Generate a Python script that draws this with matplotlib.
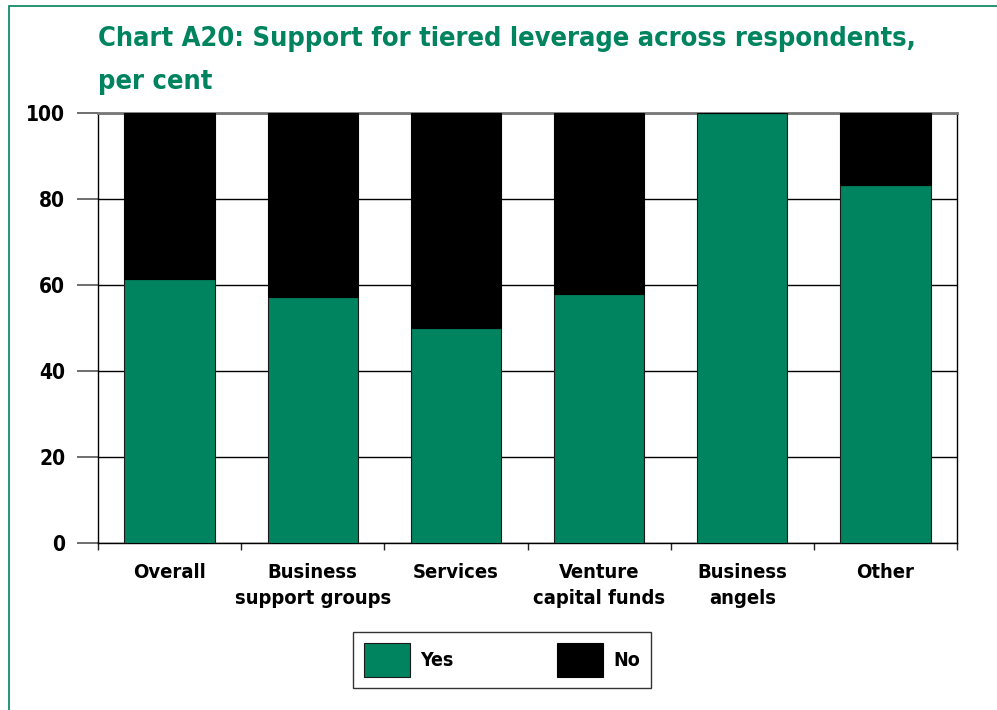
import matplotlib
matplotlib.use("Agg")
import matplotlib.pyplot as plt
from matplotlib.patches import Rectangle
import numpy as np

categories = ["Overall", "Business\nsupport groups", "Services",
              "Venture\ncapital funds", "Business\nangels", "Other"]
yes = [61.5, 57.1, 50.0, 57.9, 100.0, 83.3]
no = [100 - v for v in yes]
y_ticks = [0, 20, 40, 60, 80, 100]
y_tick_labels = ["0", "20", "40", "60", "80", "100"]

GREEN = "#00835F"
plt.rcParams["font.family"] = ["DejaVu Sans"]
plt.rcParams["font.stretch"] = "condensed"
plt.rcParams["font.weight"] = "bold"

W, H = 997, 710
fig = plt.figure(figsize=(W / 100, H / 100), dpi=100)

# outer frame
fig.patches.append(Rectangle((9 / W, -0.01), 1.0, 1.0 - (-0.01) - 6 / H,
                             transform=fig.transFigure, fill=False,
                             edgecolor=GREEN, linewidth=1.2))

ax = fig.add_axes([98 / W, 1 - 543 / H, (957 - 98) / W, (543 - 113) / H])
x = np.arange(len(categories))
ax.bar(x, yes, width=0.63, color=GREEN, edgecolor="#1a1a1a", linewidth=0.8,
       label="Yes", zorder=3)
ax.bar(x, no, bottom=yes, width=0.63, color="black", edgecolor="black",
       linewidth=0.8, label="No", zorder=3)

ax.set_xlim(-0.5, len(categories) - 0.5)
ax.set_ylim(0, 100)
ax.set_yticks(y_ticks)
ax.set_yticklabels(y_tick_labels, fontsize=15, fontweight="bold")
ax.tick_params(axis="y", length=15, width=1.2, color="#555555", pad=8.5)

ax.set_xticks(np.arange(len(categories) + 1) - 0.5)
ax.set_xticklabels([])
ax.tick_params(axis="x", length=5, width=1.0, color="#222222", direction="out")
for i, lab in enumerate(categories):
    ax.text(i, -4.6, lab, ha="center", va="top", fontsize=14.5,
            fontweight="bold", linespacing=1.5)

ax.yaxis.grid(True, color="black", linewidth=1.0, zorder=0)
ax.set_axisbelow(True)
for s in ["left", "right", "bottom"]:
    ax.spines[s].set_color("black")
    ax.spines[s].set_linewidth(1.0)
ax.spines["top"].set_color("#777777")
ax.spines["top"].set_linewidth(2.0)

fig.text(98 / W, 1 - 46 / H, "Chart A20: Support for tiered leverage across respondents,",
         color=GREEN, fontsize=19.5, fontweight="bold", va="baseline", ha="left")
fig.text(98 / W, 1 - 89 / H, "per cent",
         color=GREEN, fontsize=19.5, fontweight="bold", va="baseline", ha="left")

leg = fig.legend(loc="center", bbox_to_anchor=(502 / W, 1 - 660 / H),
                 ncol=2, frameon=True, fancybox=False, edgecolor="black",
                 prop={"size": 14, "weight": "bold"}, handlelength=2.37,
                 handleheight=2.3, columnspacing=5.3, borderpad=0.55,
                 handletextpad=0.55)
leg.get_frame().set_linewidth(1.0)

fig.savefig("out.png", dpi=100)
